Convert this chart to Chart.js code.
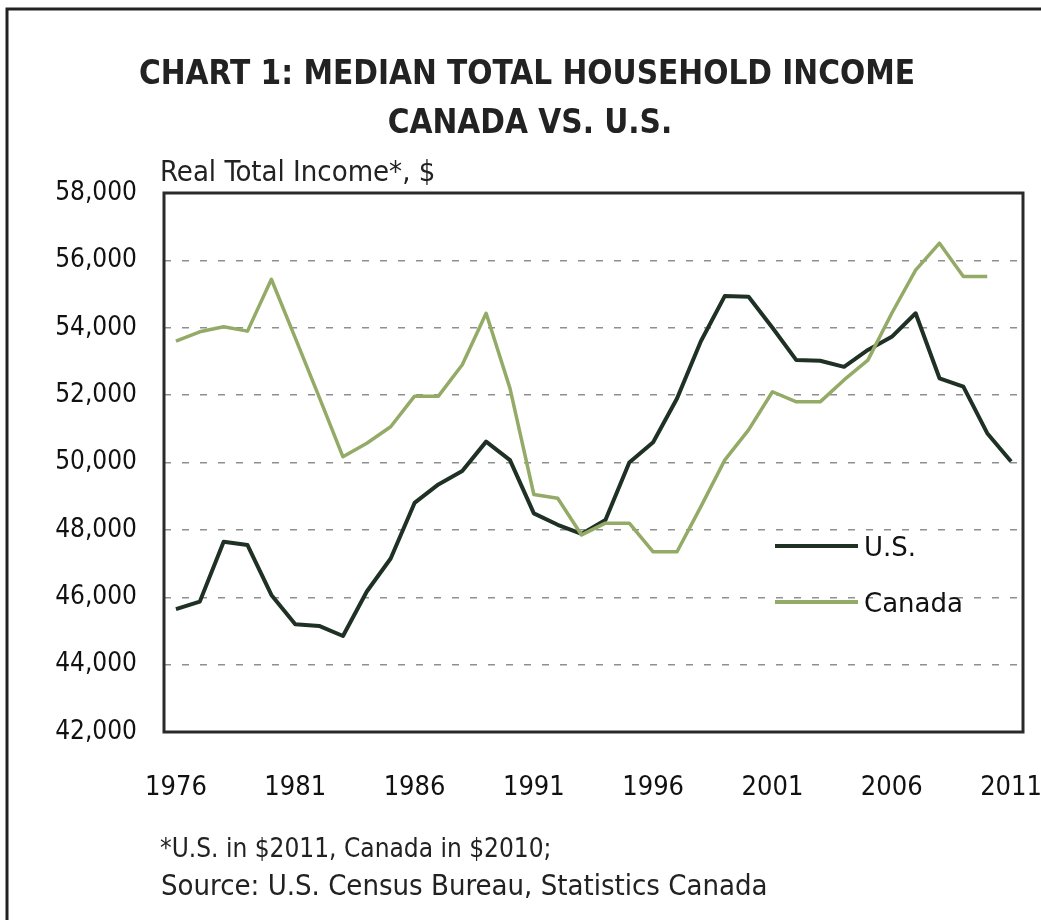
<!DOCTYPE html>
<html>
<head>
<meta charset="utf-8">
<script src="https://cdn.jsdelivr.net/npm/chart.js@4.4.1/dist/chart.umd.min.js"></script>
<style>
    html, body { margin: 0; padding: 0; background: #fff; }
    #wrap { width: 1041px; height: 920px; }
</style>
</head>
<body>
<div id="wrap"><canvas id="incomeChart" width="1041" height="920"></canvas></div>
<script>
// Median total household income, real $ (U.S. in $2011, Canada in $2010)
const years = [
    1976, 1977, 1978, 1979, 1980, 1981, 1982, 1983, 1984, 1985,
    1986, 1987, 1988, 1989, 1990, 1991, 1992, 1993, 1994, 1995,
    1996, 1997, 1998, 1999, 2000, 2001, 2002, 2003, 2004, 2005,
    2006, 2007, 2008, 2009, 2010, 2011
];
const usIncome = [
    45650, 45870, 47650, 47550, 46070, 45200, 45150, 44850, 46170, 47150,
    48800, 49350, 49750, 50620, 50070, 48490, 48150, 47880, 48290, 50000,
    50600, 51900, 53600, 54940, 54920, 54000, 53040, 53020, 52840, 53340,
    53730, 54430, 52500, 52250, 50870, 50030
];
const canadaIncome = [
    53600, 53880, 54030, 53900, 55440, 53700, 51950, 50170, 50570, 51060,
    51970, 51970, 52900, 54430, 52200, 49050, 48940, 47850, 48200, 48200,
    47350, 47350, 48690, 50070, 50970, 52100, 51800, 51800, 52450, 53040,
    54430, 55710, 56510, 55520, 55520
];
const xTickYears = [1976, 1981, 1986, 1991, 1996, 2001, 2006, 2011];
const yMin = 42000;
const yMax = 58000;
const yStep = 2000;

const titleLines = ['CHART 1: MEDIAN TOTAL HOUSEHOLD INCOME', 'CANADA VS. U.S.'];
const axisTitle = 'Real Total Income*, $';
const footnotes = ['*U.S. in $2011, Canada in $2010;', 'Source: U.S. Census Bureau, Statistics Canada'];

const US_COLOR = '#1e3124';
const CANADA_COLOR = '#93ab66';
const narrow = "'Liberation Sans Narrow', 'DejaVu Sans Condensed', 'Arial Narrow', sans-serif";

// titles, footnotes, frames and the legend drawn straight on the canvas
const chartDecor = {
    id: 'chartDecor',
    afterDraw(chart) {
        const { ctx, chartArea: a } = chart;
        ctx.save();

        ctx.strokeStyle = '#222';
        ctx.lineWidth = 3;
        ctx.beginPath();
        ctx.moveTo(7, 925);
        ctx.lineTo(7, 9);
        ctx.lineTo(1045, 9);
        ctx.stroke();

        ctx.strokeStyle = '#2a2a2a';
        ctx.lineWidth = 3;
        ctx.strokeRect(a.left, a.top, a.right - a.left, a.bottom - a.top);

        ctx.fillStyle = '#222';
        ctx.textBaseline = 'alphabetic';
        ctx.textAlign = 'center';
        ctx.font = `bold 33px ${narrow}`;
        ctx.fillText(titleLines[0], 527, 84);
        ctx.fillText(titleLines[1], 530, 133);

        ctx.textAlign = 'left';
        ctx.font = `29px ${narrow}`;
        ctx.fillText(axisTitle, 160, 181);
        ctx.font = `26px ${narrow}`;
        ctx.fillText(footnotes[0], 160, 857);
        ctx.font = `29px ${narrow}`;
        ctx.fillText(footnotes[1], 161, 895);

        // legend inside the plot
        const items = [
            { label: 'U.S.', color: US_COLOR, y: 546 },
            { label: 'Canada', color: CANADA_COLOR, y: 602 }
        ];
        ctx.font = "26px 'DejaVu Sans', sans-serif";
        items.forEach(item => {
            ctx.strokeStyle = item.color;
            ctx.lineWidth = 4;
            ctx.beginPath();
            ctx.moveTo(775, item.y);
            ctx.lineTo(858, item.y);
            ctx.stroke();
            ctx.fillStyle = '#111';
            ctx.fillText(item.label, 864, item.y + 10);
        });

        ctx.restore();
    }
};

new Chart(document.getElementById('incomeChart'), {
    type: 'line',
    data: {
        labels: years,
        datasets: [{
            label: 'U.S.',
            data: usIncome,
            borderColor: US_COLOR,
            borderWidth: 4,
            pointRadius: 0,
            tension: 0,
            borderJoinStyle: 'round',
            order: 1
        }, {
            label: 'Canada',
            data: canadaIncome,
            borderColor: CANADA_COLOR,
            borderWidth: 3.5,
            pointRadius: 0,
            tension: 0,
            borderJoinStyle: 'round',
            order: 0
        }]
    },
    options: {
        responsive: false,
        animation: false,
        devicePixelRatio: 1,
        layout: {
            padding: { top: 193, right: 18, bottom: 98, left: 0 }
        },
        plugins: {
            legend: { display: false },
            title: { display: false },
            tooltip: { enabled: false }
        },
        scales: {
            x: {
                offset: true,
                grid: { display: false, drawTicks: false },
                border: { display: false },
                afterFit: scale => {
                    scale.height = 90;
                    scale.paddingLeft = 0;
                    scale.paddingRight = 0;
                },
                ticks: {
                    autoSkip: false,
                    maxRotation: 0,
                    padding: 40,
                    color: '#111',
                    font: { family: narrow, size: 27 },
                    callback: function (value) {
                        const year = this.getLabelForValue(value);
                        return xTickYears.includes(year) ? String(year) : null;
                    }
                }
            },
            y: {
                min: yMin,
                max: yMax,
                grid: {
                    drawTicks: false,
                    lineWidth: 1.5,
                    color: ctx => (ctx.tick && (ctx.tick.value === yMin || ctx.tick.value === yMax)) ? 'rgba(0,0,0,0)' : '#8f8f8f'
                },
                border: { display: false, dash: [7, 11] },
                afterFit: scale => {
                    scale.width = 164;
                    scale.paddingTop = 0;
                    scale.paddingBottom = 0;
                },
                ticks: {
                    stepSize: yStep,
                    padding: 27,
                    color: '#111',
                    font: { family: narrow, size: 26 },
                    callback: value => value.toLocaleString('en-US')
                }
            }
        }
    },
    plugins: [chartDecor]
});
</script>
</body>
</html>
